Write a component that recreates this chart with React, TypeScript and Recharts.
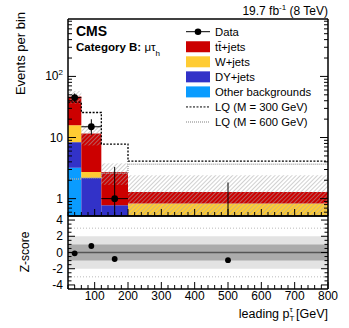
import React from "react";
import {
  ComposedChart,
  Line,
  ReferenceArea,
  ReferenceLine,
  Scatter,
  XAxis,
  YAxis,
} from "recharts";

const FONT = "'Liberation Sans', Arial, Helvetica, sans-serif";

// variable-width pT bins
const binEdges = [20, 60, 120, 200, 800];
const binCenters = [40, 90, 160, 500];

// stacked backgrounds, bottom to top
const otherBkg = [3.2, 0, 0, 0];
const dyJets = [5.2, 2.17, 0.78, 0];
const wJets = [7.5, 0.56, 0, 0.83];
const ttJets = [31, 8.9, 1.95, 0.45];
const bkgUnc = [11, 4.2, 1.05, 1.13];

const dataCounts = [45, 15, 1, 0];
const dataErrLow = [6.7, 3.9, 0.83, 0];
const dataErrHigh = [7.7, 4.9, 2.3, 1.84];

const lq300 = [38, 25.7, 7.8, 4.1];
const lq600 = [2.1, 2.2, 2.6, 3.65];

const zScores = [-0.1, 0.8, -0.8, -0.95];
const zInner = 1;
const zOuter = 2;
const zGuide = 3;

const xMajorTicks = [100, 200, 300, 400, 500, 600, 700, 800];
const xTicks = Array.from({ length: 40 }, (_, i) => 20 + i * 20);
const logTicks = [
  0.6, 0.7, 0.8, 0.9, 1, 2, 3, 4, 5, 6, 7, 8, 9, 10, 20, 30, 40, 50, 60, 70,
  80, 90, 100, 200, 300, 400, 500, 600, 700, 800,
];
const logLabels: Record<number, React.ReactNode> = {
  1: "1",
  10: "10",
  100: (
    <>
      10<tspan fontSize={8} dy={-5}>2</tspan>
    </>
  ),
};
const zTicks = Array.from({ length: 17 }, (_, i) => -4 + i * 0.5);
const zLabels = [-4, -2, 0, 2, 4];

const X_DOMAIN: [number, number] = [20, 800];
const Y_DOMAIN: [number, number] = [0.52, 870];
const Z_DOMAIN: [number, number] = [-4.5, 4.5];
const FLOOR = 0.1;

const colors = {
  tt: "#cc0000",
  w: "#ffcc33",
  dy: "#3232c8",
  other: "#0a9cff",
};

const stackLayers = [
  { name: "other", values: otherBkg, color: colors.other },
  { name: "dy", values: dyJets, color: colors.dy },
  { name: "w", values: wJets, color: colors.w },
  { name: "tt", values: ttJets, color: colors.tt },
];

const stackCells = binCenters.flatMap((_, i) => {
  let base = 0;
  return stackLayers
    .map((layer) => {
      const lo = base;
      base += layer.values[i];
      return {
        key: `${layer.name}-${i}`,
        x1: binEdges[i],
        x2: binEdges[i + 1],
        y1: Math.max(lo, FLOOR),
        y2: base,
        color: layer.color,
        empty: layer.values[i] <= 0,
      };
    })
    .filter((c) => !c.empty);
});

const stackTotals = binCenters.map((_, i) =>
  stackLayers.reduce((s, l) => s + l.values[i], 0)
);

const stepPoints = (values: number[]) => [
  ...values.map((v, i) => ({ x: binEdges[i], y: v })),
  { x: binEdges[binEdges.length - 1], y: values[values.length - 1] },
];

const dataPoints = binCenters
  .map((x, i) => ({ x, y: dataCounts[i] }))
  .filter((p) => p.y > 0);
const zPoints = binCenters.map((x, i) => ({ x, y: zScores[i] }));

const XTick = (props: any) => {
  const { x, y, payload, dir, showLabel } = props;
  const major = xMajorTicks.includes(payload.value);
  const len = major ? 7 : 4;
  return (
    <g>
      <line x1={x} y1={y} x2={x} y2={y + dir * len} stroke="#000" />
      {showLabel && major && (
        <text
          x={x}
          y={y + 11}
          textAnchor="middle"
          fontSize={12}
          fontFamily={FONT}
          fill="#000"
        >
          {payload.value}
        </text>
      )}
    </g>
  );
};

const LogTick = (props: any) => {
  const { x, y, payload, dir } = props;
  const label = logLabels[payload.value];
  const len = label ? 8 : 4;
  return (
    <g>
      <line x1={x} y1={y} x2={x + dir * len} y2={y} stroke="#000" />
      {dir > 0 && label && (
        <text
          x={x - 5}
          y={y + 4}
          textAnchor="end"
          fontSize={12}
          fontFamily={FONT}
          fill="#000"
        >
          {label}
        </text>
      )}
    </g>
  );
};

const ZTick = (props: any) => {
  const { x, y, payload, dir } = props;
  const major = zLabels.includes(payload.value);
  const len = major ? 7 : 3.5;
  return (
    <g>
      <line x1={x} y1={y} x2={x + dir * len} y2={y} stroke="#000" />
      {dir > 0 && major && (
        <text
          x={x - 5}
          y={y + 4}
          textAnchor="end"
          fontSize={12}
          fontFamily={FONT}
          fill="#000"
        >
          {payload.value}
        </text>
      )}
    </g>
  );
};

const legendRows = [
  { label: "Data", kind: "data" },
  { label: "tt\u0304+jets", kind: "box", color: colors.tt },
  { label: "W+jets", kind: "box", color: colors.w },
  { label: "DY+jets", kind: "box", color: colors.dy },
  { label: "Other backgrounds", kind: "box", color: colors.other },
  { label: "LQ (M = 300 GeV)", kind: "lq300" },
  { label: "LQ (M = 600 GeV)", kind: "lq600" },
];

const PlotLegend = () => (
  <g fontFamily={FONT} fontSize={11.3}>
    {legendRows.map((row, i) => {
      const cy = 31.7 + i * 15.05;
      return (
        <g key={row.label}>
          {row.kind === "data" && (
            <>
              <line x1={186} x2={210} y1={cy} y2={cy} stroke="#000" />
              <circle cx={198} cy={cy} r={3.3} fill="#000" />
            </>
          )}
          {row.kind === "box" && (
            <rect x={186} y={cy - 5.5} width={24} height={11} fill={row.color} />
          )}
          {row.kind === "lq300" && (
            <line
              x1={186}
              x2={210}
              y1={cy}
              y2={cy}
              stroke="#000"
              strokeDasharray="2 1.5"
            />
          )}
          {row.kind === "lq600" && (
            <line
              x1={186}
              x2={210}
              y1={cy}
              y2={cy}
              stroke="#aaa"
              strokeWidth={1.5}
              strokeDasharray="1 1"
            />
          )}
          <text x={215} y={cy + 4} fill="#000">
            {row.label}
          </text>
        </g>
      );
    })}
  </g>
);

const Dot = ({ cx, cy, r }: any) => <circle cx={cx} cy={cy} r={r} fill="#000" />;

const frameLine = { stroke: "#000", strokeWidth: 1.5 };

export default function App() {
  return (
    <div
      style={{
        position: "fixed",
        left: 0,
        top: 0,
        width: 349,
        height: 328,
        background: "#fff",
      }}
    >
      <div style={{ position: "absolute", left: 0, top: 0 }}>
        <ComposedChart
          width={349}
          height={217}
          margin={{ top: 18, right: 20, bottom: 0, left: 0 }}
        >
          <defs>
            <pattern
              id="uncHatch"
              width={3}
              height={3}
              patternUnits="userSpaceOnUse"
              patternTransform="rotate(45)"
            >
              <line x1={0} y1={0} x2={0} y2={3} stroke="#a8a8a8" strokeWidth={1.1} />
            </pattern>
          </defs>

          <XAxis
            xAxisId={0}
            dataKey="x"
            type="number"
            domain={X_DOMAIN}
            allowDataOverflow
            ticks={xTicks}
            interval={0}
            height={1}
            tickSize={0}
            tickMargin={0}
            tickLine={false}
            axisLine={frameLine}
            tick={(p: any) => <XTick {...p} dir={-1} showLabel={false} />}
          />
          <XAxis
            xAxisId="top"
            orientation="top"
            type="number"
            domain={X_DOMAIN}
            allowDataOverflow
            ticks={xTicks}
            interval={0}
            height={1}
            tickSize={0}
            tickMargin={0}
            tickLine={false}
            axisLine={frameLine}
            tick={(p: any) => <XTick {...p} dir={1} showLabel={false} />}
          />
          <YAxis
            yAxisId={0}
            scale="log"
            type="number"
            domain={Y_DOMAIN}
            allowDataOverflow
            ticks={logTicks}
            interval={0}
            width={68}
            tickSize={0}
            tickMargin={0}
            tickLine={false}
            axisLine={frameLine}
            tick={(p: any) => <LogTick {...p} dir={1} />}
          />
          <YAxis
            yAxisId="right"
            orientation="right"
            scale="log"
            type="number"
            domain={Y_DOMAIN}
            allowDataOverflow
            ticks={logTicks}
            interval={0}
            width={1}
            tickSize={0}
            tickMargin={0}
            tickLine={false}
            axisLine={frameLine}
            tick={(p: any) => <LogTick {...p} dir={-1} />}
          />

          {stackCells.map((c) => (
            <ReferenceArea
              key={c.key}
              x1={c.x1}
              x2={c.x2}
              y1={c.y1}
              y2={c.y2}
              fill={c.color}
              fillOpacity={1}
              stroke="none"
              ifOverflow="hidden"
            />
          ))}
          {stackTotals.map((t, i) => (
            <ReferenceArea
              key={`unc-${i}`}
              x1={binEdges[i]}
              x2={binEdges[i + 1]}
              y1={Math.max(t - bkgUnc[i], FLOOR)}
              y2={t + bkgUnc[i]}
              fill="url(#uncHatch)"
              fillOpacity={1}
              stroke="none"
              ifOverflow="hidden"
            />
          ))}

          <Line
            data={stepPoints(lq600)}
            dataKey="y"
            type="stepAfter"
            stroke="#aaa"
            strokeWidth={1.5}
            strokeDasharray="1 1"
            dot={false}
            isAnimationActive={false}
          />
          <Line
            data={stepPoints(lq300)}
            dataKey="y"
            type="stepAfter"
            stroke="#000"
            strokeWidth={1.3}
            strokeDasharray="2 1.5"
            dot={false}
            isAnimationActive={false}
          />

          {binCenters.map((c, i) =>
            dataCounts[i] > 0 ? (
              <ReferenceLine
                key={`xerr-${i}`}
                segment={[
                  { x: binEdges[i], y: dataCounts[i] },
                  { x: binEdges[i + 1], y: dataCounts[i] },
                ]}
                stroke="#000"
                strokeWidth={1}
                ifOverflow="hidden"
              />
            ) : null
          )}
          {binCenters.map((c, i) => (
            <ReferenceLine
              key={`yerr-${i}`}
              segment={[
                { x: c, y: Math.max(dataCounts[i] - dataErrLow[i], FLOOR) },
                { x: c, y: dataCounts[i] + dataErrHigh[i] },
              ]}
              stroke="#000"
              strokeWidth={1}
              ifOverflow="hidden"
            />
          ))}
          <Scatter
            data={dataPoints}
            dataKey="y"
            shape={(p: any) => <Dot {...p} r={3.4} />}
            isAnimationActive={false}
          />

          <text
            x={328}
            y={15}
            textAnchor="end"
            fontSize={12}
            fontFamily={FONT}
            fill="#000"
          >
            19.7 fb
            <tspan fontSize={8} dy={-5}>
              -1
            </tspan>
            <tspan dy={5}> (8 TeV)</tspan>
          </text>
          <text
            x={25}
            y={12}
            transform="rotate(-90 25 12)"
            textAnchor="end"
            fontSize={13}
            fontFamily={FONT}
            fill="#000"
          >
            Events per bin
          </text>
          <text
            x={76}
            y={36}
            fontSize={14}
            fontWeight="bold"
            fontFamily={FONT}
            fill="#000"
          >
            CMS
          </text>
          <text
            x={76}
            y={51}
            fontSize={11.5}
            fontWeight="bold"
            fontFamily={FONT}
            fill="#000"
          >
            Category B:{" "}
            <tspan fontWeight="normal">μτ</tspan>
            <tspan fontWeight="normal" fontSize={8} dy={5}>
              h
            </tspan>
          </text>
          <PlotLegend />
        </ComposedChart>
      </div>

      <div style={{ position: "absolute", left: 0, top: 200 }}>
        <ComposedChart
          width={349}
          height={128}
          margin={{ top: 15, right: 20, bottom: 38, left: 0 }}
        >
          <XAxis
            xAxisId={0}
            dataKey="x"
            type="number"
            domain={X_DOMAIN}
            allowDataOverflow
            ticks={xTicks}
            interval={0}
            height={1}
            tickSize={0}
            tickMargin={0}
            tickLine={false}
            axisLine={frameLine}
            tick={(p: any) => <XTick {...p} dir={-1} showLabel />}
          />
          <XAxis
            xAxisId="top"
            orientation="top"
            type="number"
            domain={X_DOMAIN}
            allowDataOverflow
            ticks={xTicks}
            interval={0}
            height={1}
            tickSize={0}
            tickMargin={0}
            tickLine={false}
            axisLine={frameLine}
            tick={(p: any) => <XTick {...p} dir={1} showLabel={false} />}
          />
          <YAxis
            yAxisId={0}
            type="number"
            domain={Z_DOMAIN}
            allowDataOverflow
            ticks={zTicks}
            interval={0}
            width={68}
            tickSize={0}
            tickMargin={0}
            tickLine={false}
            axisLine={frameLine}
            tick={(p: any) => <ZTick {...p} dir={1} />}
          />
          <YAxis
            yAxisId="right"
            orientation="right"
            type="number"
            domain={Z_DOMAIN}
            allowDataOverflow
            ticks={zTicks}
            interval={0}
            width={1}
            tickSize={0}
            tickMargin={0}
            tickLine={false}
            axisLine={frameLine}
            tick={(p: any) => <ZTick {...p} dir={-1} />}
          />

          <ReferenceArea
            y1={-zOuter}
            y2={zOuter}
            fill="#e3e3e3"
            fillOpacity={1}
            stroke="none"
            ifOverflow="hidden"
          />
          <ReferenceArea
            y1={-zInner}
            y2={zInner}
            fill="#ababab"
            fillOpacity={1}
            stroke="none"
            ifOverflow="hidden"
          />
          <ReferenceLine y={zGuide} stroke="#bbb" strokeDasharray="1 2" />
          <ReferenceLine y={-zGuide} stroke="#bbb" strokeDasharray="1 2" />
          <ReferenceLine y={0} stroke="#555" strokeWidth={1.5} />
          <Scatter
            data={zPoints}
            dataKey="y"
            shape={(p: any) => <Dot {...p} r={2.9} />}
            isAnimationActive={false}
          />

          <text
            x={29}
            y={52}
            transform="rotate(-90 29 52)"
            textAnchor="middle"
            fontSize={12}
            fontFamily={FONT}
            fill="#000"
          >
            Z-score
          </text>
          <text
            x={328}
            y={118}
            textAnchor="end"
            fontSize={12.5}
            fontFamily={FONT}
            fill="#000"
          >
            leading p
            <tspan fontSize={8} dy={3}>
              T
            </tspan>
            <tspan fontSize={8} dx={-5} dy={-9}>
              τ
            </tspan>
            <tspan dy={6}> [GeV]</tspan>
          </text>
        </ComposedChart>
      </div>
    </div>
  );
}
